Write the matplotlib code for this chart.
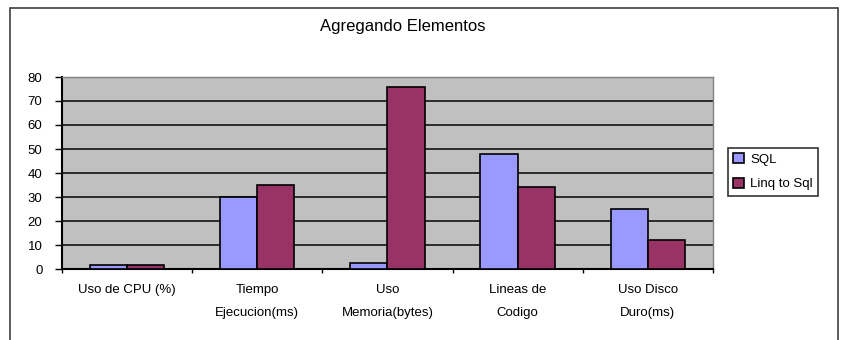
import matplotlib.pyplot as plt
import numpy as np
from matplotlib.patches import Rectangle

plt.rcParams['font.family'] = ['Liberation Sans', 'DejaVu Sans']

# datos
categorias = ['Uso de CPU (%)', 'Tiempo\nEjecucion(ms)', 'Uso\nMemoria(bytes)',
              'Lineas de\nCodigo', 'Uso Disco\nDuro(ms)']
sql = [1.5, 30, 2.4, 48, 25]
linq = [1.5, 35, 76, 34, 12]
yticks = [0, 10, 20, 30, 40, 50, 60, 70, 80]

fig = plt.figure(figsize=(8.45, 3.4), dpi=100)
ax = fig.add_axes([62 / 845, 71 / 340, 651 / 845, 192 / 340])

x = np.arange(len(categorias))
w = 1 / 3.5  # ancho tipo Excel, gap 150%
ax.bar(x - w / 2, sql, w, color='#9999FF', edgecolor='black', lw=1.2,
       label='SQL', zorder=3)
ax.bar(x + w / 2, linq, w, color='#993366', edgecolor='black', lw=1.2,
       label='Linq to Sql', zorder=3)

ax.set_facecolor('#C0C0C0')
ax.set_xlim(-0.5, len(categorias) - 0.5)
ax.set_ylim(0, 80)
ax.set_yticks(yticks)
ax.yaxis.grid(True, color='#202020', lw=1.3, zorder=1)
ax.set_axisbelow(True)

# marcas del eje x entre categorias
ax.set_xticks(np.arange(len(categorias) + 1) - 0.5)
ax.set_xticklabels([])
ax.set_xticks(x, minor=True)
ax.set_xticklabels(categorias, minor=True, fontsize=9.5, linespacing=2.2,
                   va='top')
ax.tick_params(axis='x', which='minor', length=0, pad=11)
ax.tick_params(axis='x', which='major', length=3, width=1, direction='out')
ax.tick_params(axis='y', length=5, width=1, labelsize=9.5, pad=9)

for s in ['left', 'bottom']:
    ax.spines[s].set_linewidth(1.5)
    ax.spines[s].set_color('black')
for s in ['top', 'right']:
    ax.spines[s].set_color('#808080')
    ax.spines[s].set_linewidth(1)

fig.text(403 / 845, 1 - 27 / 340, 'Agregando Elementos', ha='center',
         va='center', fontsize=12)

leg = ax.legend(loc='upper left', bbox_to_anchor=(728 / 845, 1 - 148 / 340),
                bbox_transform=fig.transFigure, fontsize=9.5, frameon=True,
                fancybox=False, edgecolor='black', handlelength=0.8,
                handleheight=0.8, handletextpad=0.5, borderpad=0.4,
                labelspacing=0.9, borderaxespad=0)
leg.get_frame().set_linewidth(1.2)

# marco exterior del grafico
fig.patches.append(Rectangle((10 / 845, -0.1), 828 / 845, 1.1 - 8 / 340,
                             transform=fig.transFigure, fill=False,
                             edgecolor='#404040', lw=1.2))

fig.savefig('out.png', dpi=100)
